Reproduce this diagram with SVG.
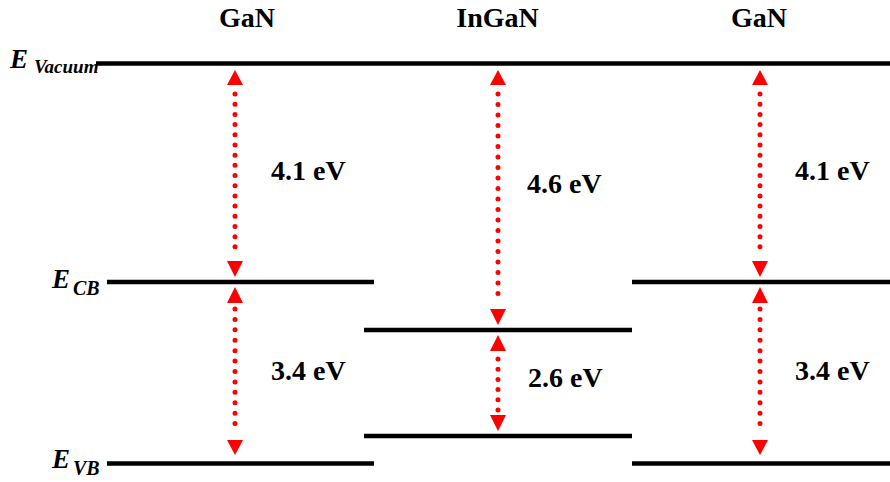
<svg xmlns="http://www.w3.org/2000/svg" width="890" height="482" viewBox="0 0 890 482">
<style>
.lvl{stroke:#000;stroke-width:4.6;fill:none}
.dot{stroke:#f00;stroke-width:5;stroke-linecap:round;fill:none}
.hd{fill:#f00}
text{font-family:'Liberation Serif','Times New Roman',Times,serif;font-weight:bold;fill:#000}
.lab{font-size:28px}
.e{font-style:italic}
</style>
<rect width="890" height="482" fill="#fff"/>
<g id="headers">
<text class="lab" x="247" y="27" text-anchor="middle">GaN</text>
<text class="lab" x="497.5" y="27" text-anchor="middle">InGaN</text>
<text class="lab" x="759" y="27" text-anchor="middle">GaN</text>
</g>
<g id="axis-labels">
<text class="e" x="10" y="68" font-size="27">E</text><text class="e" x="34" y="73" font-size="19">Vacuum</text>
<text class="e" x="52" y="288" font-size="27">E</text><text class="e" x="73" y="295" font-size="20">CB</text>
<text class="e" x="52" y="468" font-size="27">E</text><text class="e" x="73" y="475" font-size="20">VB</text>
</g>
<g id="levels">
<line class="lvl" x1="96" y1="63.5" x2="890" y2="63.5"/>
<line class="lvl" x1="107" y1="282" x2="374" y2="282"/>
<line class="lvl" x1="632" y1="282" x2="890" y2="282"/>
<line class="lvl" x1="364" y1="330" x2="632" y2="330"/>
<line class="lvl" x1="364" y1="436" x2="632" y2="436"/>
<line class="lvl" x1="107" y1="463.5" x2="374" y2="463.5"/>
<line class="lvl" x1="632" y1="463.5" x2="890" y2="463.5"/>
</g>
<g id="connectors">
<line class="dot" x1="235" y1="94" x2="235" y2="257" stroke-dasharray="0 10.19"/>
<polygon class="hd" points="235,70 243,85 227,85"/>
<polygon class="hd" points="235,277 243,261 227,261"/>
<line class="dot" x1="235" y1="309" x2="235" y2="434" stroke-dasharray="0 10.42"/>
<polygon class="hd" points="235,287 243,303 227,303"/>
<polygon class="hd" points="235,455 243,440 227,440"/>
<line class="dot" x1="498" y1="94" x2="498" y2="304" stroke-dasharray="0 10.5"/>
<polygon class="hd" points="498,70 506,85 490,85"/>
<polygon class="hd" points="498,325 506,309 490,309"/>
<line class="dot" x1="498" y1="359" x2="498" y2="410" stroke-dasharray="0 10.2"/>
<polygon class="hd" points="498,335 506,351 490,351"/>
<polygon class="hd" points="498,431 506,415 490,415"/>
<line class="dot" x1="760" y1="94" x2="760" y2="257" stroke-dasharray="0 10.19"/>
<polygon class="hd" points="760,70 768,85 752,85"/>
<polygon class="hd" points="760,277 768,261 752,261"/>
<line class="dot" x1="760" y1="309" x2="760" y2="434" stroke-dasharray="0 10.42"/>
<polygon class="hd" points="760,287 768,303 752,303"/>
<polygon class="hd" points="760,455 768,440 752,440"/>
</g>
<g id="values">
<text class="lab" x="271" y="180">4.1 eV</text>
<text class="lab" x="271" y="380">3.4 eV</text>
<text class="lab" x="527" y="193">4.6 eV</text>
<text class="lab" x="528" y="387">2.6 eV</text>
<text class="lab" x="795" y="180">4.1 eV</text>
<text class="lab" x="795" y="380">3.4 eV</text>
</g>
</svg>
